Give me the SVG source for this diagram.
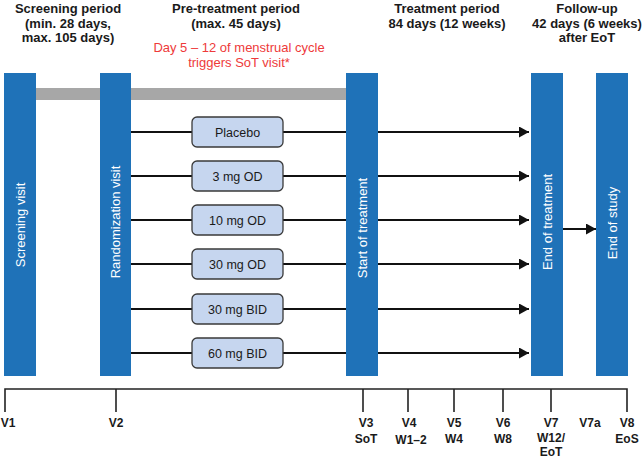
<svg xmlns="http://www.w3.org/2000/svg" width="642" height="459" viewBox="0 0 642 459">
<defs>
<marker id="ah" markerWidth="10" markerHeight="11" refX="10" refY="5.5" orient="auto" markerUnits="userSpaceOnUse">
<path d="M0,0 L10,5.5 L0,11 Z" fill="#111"/>
</marker>
<style>
.hd{font-family:"Liberation Sans",Arial,sans-serif;font-size:13px;font-weight:bold;fill:#1a1a1a;text-anchor:middle}
.red{font-family:"Liberation Sans",Arial,sans-serif;font-size:13px;fill:#ee3a3a;text-anchor:middle}
.bar{fill:#1f72b8}
.bt{font-family:"Liberation Sans",Arial,sans-serif;font-size:13px;fill:#ffffff;text-anchor:middle}
.box{fill:#c6d6ef;stroke:#3a3a3a;stroke-width:1.3}
.blt{font-family:"Liberation Sans",Arial,sans-serif;font-size:12.5px;fill:#1a1a1a;text-anchor:middle}
.ln{stroke:#111;stroke-width:2;fill:none}
.tl{stroke:#222;stroke-width:1.6;fill:none}
.vl{font-family:"Liberation Sans",Arial,sans-serif;font-size:12px;font-weight:bold;fill:#1a1a1a;text-anchor:middle}
</style>
</defs>
<rect width="642" height="459" fill="#ffffff"/>
<g id="headers">
<text class="hd" x="68" y="13">Screening period</text>
<text class="hd" x="68" y="28">(min. 28 days,</text>
<text class="hd" x="68" y="42">max. 105 days)</text>
<text class="hd" x="236" y="13">Pre-treatment period</text>
<text class="hd" x="236" y="28">(max. 45 days)</text>
<text class="red" x="239" y="52">Day 5 – 12 of menstrual cycle</text>
<text class="red" x="239" y="67">triggers SoT visit*</text>
<text class="hd" x="447" y="13">Treatment period</text>
<text class="hd" x="447" y="28">84 days (12 weeks)</text>
<text class="hd" x="587" y="13">Follow-up</text>
<text class="hd" x="587" y="28">42 days (6 weeks)</text>
<text class="hd" x="587" y="42">after EoT</text>
</g>
<rect id="graybar" x="36" y="88" width="310" height="12" fill="#a7a7a7"/>
<g id="connectors">
<line class="ln" x1="131" y1="132" x2="192" y2="132"/><line class="ln" x1="283" y1="132" x2="346" y2="132"/>
<line class="ln" x1="131" y1="176" x2="192" y2="176"/><line class="ln" x1="283" y1="176" x2="346" y2="176"/>
<line class="ln" x1="131" y1="220" x2="192" y2="220"/><line class="ln" x1="283" y1="220" x2="346" y2="220"/>
<line class="ln" x1="131" y1="264" x2="192" y2="264"/><line class="ln" x1="283" y1="264" x2="346" y2="264"/>
<line class="ln" x1="131" y1="309" x2="192" y2="309"/><line class="ln" x1="283" y1="309" x2="346" y2="309"/>
<line class="ln" x1="131" y1="353" x2="192" y2="353"/><line class="ln" x1="283" y1="353" x2="346" y2="353"/>
<line class="ln" x1="378" y1="132" x2="529" y2="132" marker-end="url(#ah)"/>
<line class="ln" x1="378" y1="176" x2="529" y2="176" marker-end="url(#ah)"/>
<line class="ln" x1="378" y1="220" x2="529" y2="220" marker-end="url(#ah)"/>
<line class="ln" x1="378" y1="264" x2="529" y2="264" marker-end="url(#ah)"/>
<line class="ln" x1="378" y1="309" x2="529" y2="309" marker-end="url(#ah)"/>
<line class="ln" x1="378" y1="353" x2="529" y2="353" marker-end="url(#ah)"/>
<line class="ln" x1="563" y1="229" x2="596" y2="229" marker-end="url(#ah)"/>
</g>
<g id="screening"><rect class="bar" x="4" y="73" width="32" height="303"/><text class="bt" transform="translate(24.5,225) rotate(-90)">Screening visit</text></g>
<g id="randomization"><rect class="bar" x="100" y="73" width="31" height="303"/><text class="bt" transform="translate(120,222) rotate(-90)">Randomization visit</text></g>
<g id="sot"><rect class="bar" x="346" y="73" width="32" height="303"/><text class="bt" transform="translate(366.5,228) rotate(-90)">Start of treatment</text></g>
<g id="eot"><rect class="bar" x="531" y="73" width="32" height="303"/><text class="bt" transform="translate(551.5,222) rotate(-90)">End of treatment</text></g>
<g id="eos"><rect class="bar" x="596" y="73" width="32" height="303"/><text class="bt" transform="translate(616.5,223) rotate(-90)">End of study</text></g>
<g id="placebo"><rect class="box" x="192" y="117" width="91" height="30" rx="5"/><text class="blt" x="237.5" y="136.5">Placebo</text></g>
<g id="d3od"><rect class="box" x="192" y="161" width="91" height="30" rx="5"/><text class="blt" x="237.5" y="180.5">3 mg OD</text></g>
<g id="d10od"><rect class="box" x="192" y="205" width="91" height="30" rx="5"/><text class="blt" x="237.5" y="224.5">10 mg OD</text></g>
<g id="d30od"><rect class="box" x="192" y="249" width="91" height="30" rx="5"/><text class="blt" x="237.5" y="268.5">30 mg OD</text></g>
<g id="d30bid"><rect class="box" x="192" y="294" width="91" height="30" rx="5"/><text class="blt" x="237.5" y="313.5">30 mg BID</text></g>
<g id="d60bid"><rect class="box" x="192" y="338" width="91" height="30" rx="5"/><text class="blt" x="237.5" y="357.5">60 mg BID</text></g>
<g id="timeline">
<polyline class="tl" points="5,412 5,389 627,389 627,412"/>
<line class="tl" x1="116" y1="389" x2="116" y2="412"/>
<line class="tl" x1="363" y1="389" x2="363" y2="412"/>
<line class="tl" x1="408" y1="389" x2="408" y2="412"/>
<line class="tl" x1="454" y1="389" x2="454" y2="412"/>
<line class="tl" x1="503" y1="389" x2="503" y2="412"/>
<line class="tl" x1="551" y1="389" x2="551" y2="412"/>
<text class="vl" x="8" y="427">V1</text>
<text class="vl" x="116" y="427">V2</text>
<text class="vl" x="366" y="427">V3</text><text class="vl" x="366" y="443">SoT</text>
<text class="vl" x="409" y="427">V4</text><text class="vl" x="411" y="444">W1–2</text>
<text class="vl" x="454" y="427">V5</text><text class="vl" x="454" y="443">W4</text>
<text class="vl" x="503" y="427">V6</text><text class="vl" x="503" y="443">W8</text>
<text class="vl" x="551" y="427">V7</text><text class="vl" x="551" y="442">W12/</text><text class="vl" x="551" y="456">EoT</text>
<text class="vl" x="590" y="427">V7a</text>
<text class="vl" x="627" y="427">V8</text><text class="vl" x="627" y="443">EoS</text>
</g>
</svg>
